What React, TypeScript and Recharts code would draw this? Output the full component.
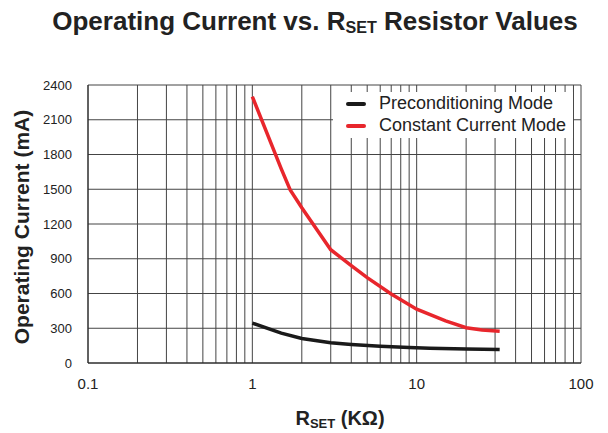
import React from 'react';
import { LineChart, Line, XAxis, YAxis, CartesianGrid, Legend } from 'recharts';

// log grid: decades plus the 2..9 lines in between
const xTicks = [
    0.1, 0.2, 0.3, 0.4, 0.5, 0.6, 0.7, 0.8, 0.9,
    1, 2, 3, 4, 5, 6, 7, 8, 9,
    10, 20, 30, 40, 50, 60, 70, 80, 90,
    100,
];
const xLabels = [0.1, 1, 10, 100];
const yTicks = [0, 300, 600, 900, 1200, 1500, 1800, 2100, 2400];

const seriesNames = ['Preconditioning Mode', 'Constant Current Mode'];

// (kΩ / mA)
const preconditioningR = [1, 1.5, 2, 3, 4, 6, 9, 12, 20, 32];
const preconditioningMa = [345, 258, 211, 174, 160, 145, 134, 128, 121, 116];

const constantR = [1, 1.5, 1.7, 2, 3, 4, 5, 7, 10, 15, 20, 25, 32];
const constantMa = [2300, 1676, 1495, 1340, 978, 840, 737, 596, 465, 363, 305, 285, 275];

const FONT = '"Liberation Sans", Arial, Helvetica, sans-serif';

const preconditioningData = preconditioningR.map((r, i) => ({ r, ma: preconditioningMa[i] }));
const constantData = constantR.map((r, i) => ({ r, ma: constantMa[i] }));

const LegendBox = (props: any) => {
    // keep the series order (recharts sorts the payload by name)
    const items = [...(props.payload || [])].sort(
        (a: any, b: any) => seriesNames.indexOf(a.value) - seriesNames.indexOf(b.value)
    );
    return (
        <div
            style={{
                position: 'relative',
                width: 240,
                height: 46,
                background: '#fff',
                fontFamily: FONT,
                fontSize: 18,
                color: '#222',
            }}
        >
            {items.map((item: any, i: number) => (
                <div
                    key={item.value}
                    style={{ position: 'absolute', left: 0, top: i * 22, height: 22, lineHeight: '22px', whiteSpace: 'nowrap' }}
                >
                    <span
                        style={{
                            position: 'absolute',
                            left: 13,
                            top: 10,
                            width: 20,
                            height: 4,
                            borderRadius: 2,
                            background: item.color,
                        }}
                    />
                    <span style={{ position: 'absolute', left: 46, top: 0 }}>{item.value}</span>
                </div>
            ))}
        </div>
    );
};

export default function App() {
    return (
        <div
            style={{
                position: 'absolute',
                left: 0,
                top: 0,
                width: 608,
                height: 433,
                background: '#fff',
                fontFamily: FONT,
                color: '#222',
            }}
        >
            <div
                style={{
                    position: 'absolute',
                    left: 315,
                    top: 6,
                    transform: 'translateX(-50%)',
                    whiteSpace: 'nowrap',
                    fontSize: 26,
                    lineHeight: '30px',
                    fontWeight: 'bold',
                }}
            >
                Operating Current vs. R
                <span style={{ fontSize: '0.62em', verticalAlign: '-0.2em' }}>SET</span> Resistor Values
            </div>

            <LineChart width={608} height={433} margin={{ top: 85, right: 27, bottom: 40, left: 28 }}>
                <CartesianGrid stroke="#444" strokeWidth={1} />
                <XAxis
                    dataKey="r"
                    type="number"
                    scale="log"
                    domain={[0.1, 100]}
                    allowDataOverflow
                    ticks={xTicks}
                    interval={0}
                    height={30}
                    tickSize={0}
                    tickMargin={15}
                    tickLine={false}
                    axisLine={{ stroke: '#222' }}
                    tick={{ fontSize: 15, fill: '#222', fontFamily: FONT }}
                    tickFormatter={(v: number) => (xLabels.includes(v) ? String(v) : '')}
                />
                <YAxis
                    type="number"
                    domain={[0, 2400]}
                    ticks={yTicks}
                    interval={0}
                    width={60}
                    tickSize={0}
                    tickMargin={16}
                    tickLine={false}
                    axisLine={{ stroke: '#222' }}
                    tick={{ fontSize: 13, fill: '#222', fontFamily: FONT }}
                />
                <Legend
                    layout="horizontal"
                    verticalAlign="middle"
                    align="center"
                    wrapperStyle={{ position: 'absolute', left: 333, top: 92, width: 240, height: 46 }}
                    content={LegendBox}
                />
                <Line
                    data={preconditioningData}
                    dataKey="ma"
                    name="Preconditioning Mode"
                    type="linear"
                    stroke="#1a1a1a"
                    strokeWidth={3.5}
                    dot={false}
                    isAnimationActive={false}
                />
                <Line
                    data={constantData}
                    dataKey="ma"
                    name="Constant Current Mode"
                    type="linear"
                    stroke="#e8262c"
                    strokeWidth={3.5}
                    dot={false}
                    isAnimationActive={false}
                />
            </LineChart>

            <div
                style={{
                    position: 'absolute',
                    left: 22,
                    top: 227,
                    transform: 'translate(-50%, -50%) rotate(-90deg)',
                    whiteSpace: 'nowrap',
                    fontSize: 21,
                    lineHeight: '24px',
                    fontWeight: 'bold',
                }}
            >
                Operating Current (mA)
            </div>

            <div
                style={{
                    position: 'absolute',
                    left: 340,
                    top: 406,
                    transform: 'translateX(-50%)',
                    whiteSpace: 'nowrap',
                    fontSize: 20,
                    lineHeight: '24px',
                    fontWeight: 'bold',
                }}
            >
                R<span style={{ fontSize: '0.65em', verticalAlign: '-0.2em' }}>SET</span> (KΩ)
            </div>
        </div>
    );
}
